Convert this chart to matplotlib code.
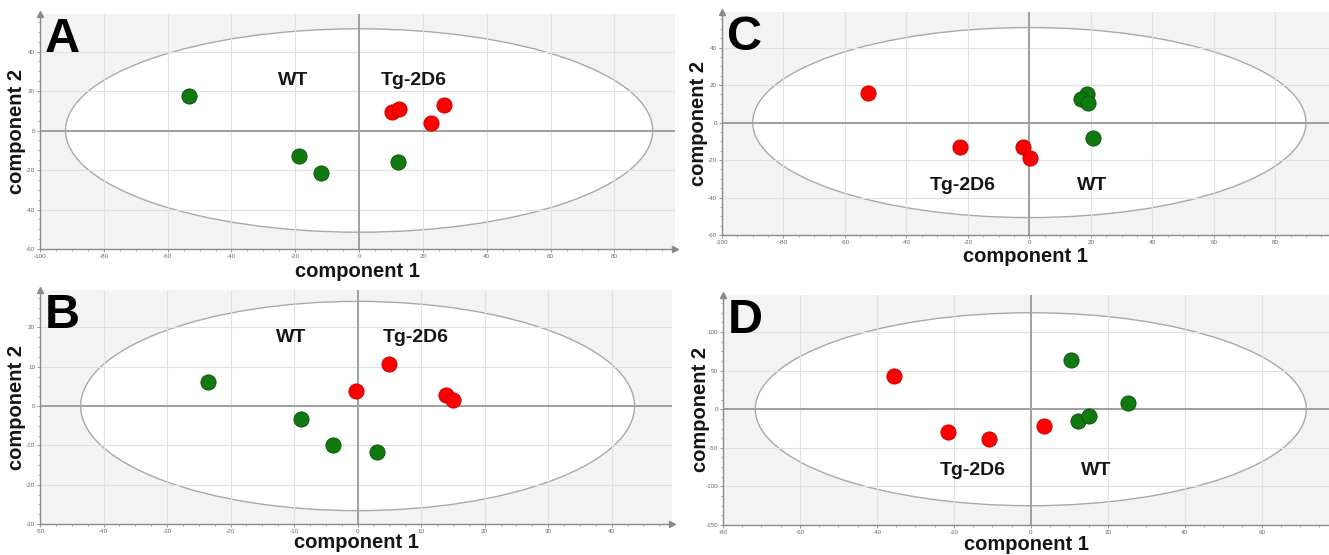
import matplotlib.pyplot as plt
from matplotlib.patches import Ellipse
from matplotlib.ticker import MultipleLocator

plt.rcParams['font.family'] = ['Liberation Sans', 'DejaVu Sans']
plt.rcParams['axes.unicode_minus'] = False

# ---- data ----
# A
a_wt_x = [-53.3, -18.7, -11.9, 12.3]
a_wt_y = [17.3, -13.0, -21.6, -16.1]
a_tg_x = [10.4, 12.4, 22.5, 26.5]
a_tg_y = [9.2, 11.0, 3.6, 12.7]
# B
b_wt_x = [-23.6, -8.9, -3.9, 3.0]
b_wt_y = [6.1, -3.3, -9.9, -11.8]
b_tg_x = [-0.3, 5.0, 13.9, 15.1]
b_tg_y = [3.7, 10.8, 2.7, 1.6]
# C
c_wt_x = [18.7, 16.8, 19.2, 20.7]
c_wt_y = [15.1, 12.4, 10.7, -8.0]
c_tg_x = [-52.4, -22.7, -2.1, 0.2]
c_tg_y = [15.8, -13.0, -13.3, -19.0]
# D
d_wt_x = [10.4, 25.2, 12.3, 15.2]
d_wt_y = [63.5, 8.7, -15.2, -8.7]
d_tg_x = [-35.6, -21.4, -10.9, 3.5]
d_tg_y = [43.0, -29.1, -38.3, -21.7]

W, H = 1329, 555
fig = plt.figure(figsize=(W / 100, H / 100), dpi=100)

GREEN = '#107a10'
RED = '#ff0000'


def panel(box, letter, xlim, ylim, xstep, ystep, ell, wt, tg, wt_pos, tg_pos,
          xlab_off=21, arrow_x=True):
    left, top, right, bottom = box
    wpx, hpx = right - left, bottom - top
    ax = fig.add_axes([left / W, 1 - bottom / H, wpx / W, hpx / H])
    ax.set_facecolor('#f3f3f3')
    ax.set_xlim(*xlim)
    ax.set_ylim(*ylim)

    ax.add_patch(Ellipse((0, 0), 2 * ell[0], 2 * ell[1], facecolor='white',
                         edgecolor='#a9a9a9', lw=1.0, zorder=0.4))
    ax.set_axisbelow(True)
    ax.grid(True, color='#e1e1e1', lw=0.8)
    ax.axhline(0, color='#a0a0a0', lw=1.4, zorder=1)
    ax.axvline(0, color='#a0a0a0', lw=1.4, zorder=1)

    ax.scatter(wt[0], wt[1], s=120, c=GREEN, edgecolors='#0a4d0a', linewidths=0.6, zorder=3)
    ax.scatter(tg[0], tg[1], s=120, c=RED, edgecolors='#c00000', linewidths=0.6, zorder=3)

    ax.text(*wt_pos, 'WT', ha='center', va='center', fontsize=14, fontweight='bold', color='#151515')
    ax.text(*tg_pos, 'Tg-2D6', ha='center', va='center', fontsize=14, fontweight='bold', color='#151515')
    ax.text(5 / wpx, 1 - 3 / hpx, letter, transform=ax.transAxes, ha='left', va='top',
            fontsize=35, fontweight='bold', color='black')

    ax.xaxis.set_major_locator(MultipleLocator(xstep))
    ax.yaxis.set_major_locator(MultipleLocator(ystep))
    ax.xaxis.set_minor_locator(MultipleLocator(xstep / 4))
    ax.yaxis.set_minor_locator(MultipleLocator(ystep / 4))
    for s in ['top', 'right']:
        ax.spines[s].set_visible(False)
    for s in ['left', 'bottom']:
        ax.spines[s].set_color('#8a8a8a')
        ax.spines[s].set_linewidth(1.0)
    ax.tick_params(which='major', direction='out', length=2.5, width=0.6, colors='#8a8a8a',
                   labelsize=4.5, labelcolor='#666666', pad=1)
    ax.tick_params(which='minor', direction='out', length=1.5, width=0.5, colors='#8a8a8a')

    ax.plot(0, 1, '^', color='#8a8a8a', ms=4, transform=ax.transAxes, clip_on=False)
    if arrow_x:
        ax.plot(1, 0, '>', color='#8a8a8a', ms=4, transform=ax.transAxes, clip_on=False)

    ax.set_xlabel('component 1', fontsize=14.5, fontweight='bold', color='#151515')
    ax.xaxis.label.set_va('center')
    ax.xaxis.set_label_coords(0.5, -xlab_off / hpx)
    ax.set_ylabel('component 2', fontsize=14.5, fontweight='bold', color='#151515')
    ax.yaxis.label.set_va('center')
    ax.yaxis.set_label_coords(-23 / wpx, 0.5)
    return ax


panel((40, 14, 675, 249), 'A', (-100, 99), (-60, 59), 20, 20, (92, 51.5),
      (a_wt_x, a_wt_y), (a_tg_x, a_tg_y), (-20.6, 25.5), (17, 25.5), xlab_off=22)
panel((40, 290, 672, 524), 'B', (-50, 49.5), (-30, 29.5), 10, 10, (43.6, 26.6),
      (b_wt_x, b_wt_y), (b_tg_x, b_tg_y), (-10.5, 17.3), (9.1, 17.3), xlab_off=19)
panel((722, 12, 1329, 235), 'C', (-100, 97.5), (-60, 59), 20, 20, (90, 50.7),
      (c_wt_x, c_wt_y), (c_tg_x, c_tg_y), (20.3, -33.5), (-21.6, -33.5),
      xlab_off=22, arrow_x=False)
panel((723, 295, 1329, 525), 'D', (-80, 77.5), (-150, 148), 20, 50, (71.6, 125),
      (d_wt_x, d_wt_y), (d_tg_x, d_tg_y), (16.9, -80), (-15.2, -80),
      xlab_off=19, arrow_x=False)

fig.savefig('out.png', dpi=100)
